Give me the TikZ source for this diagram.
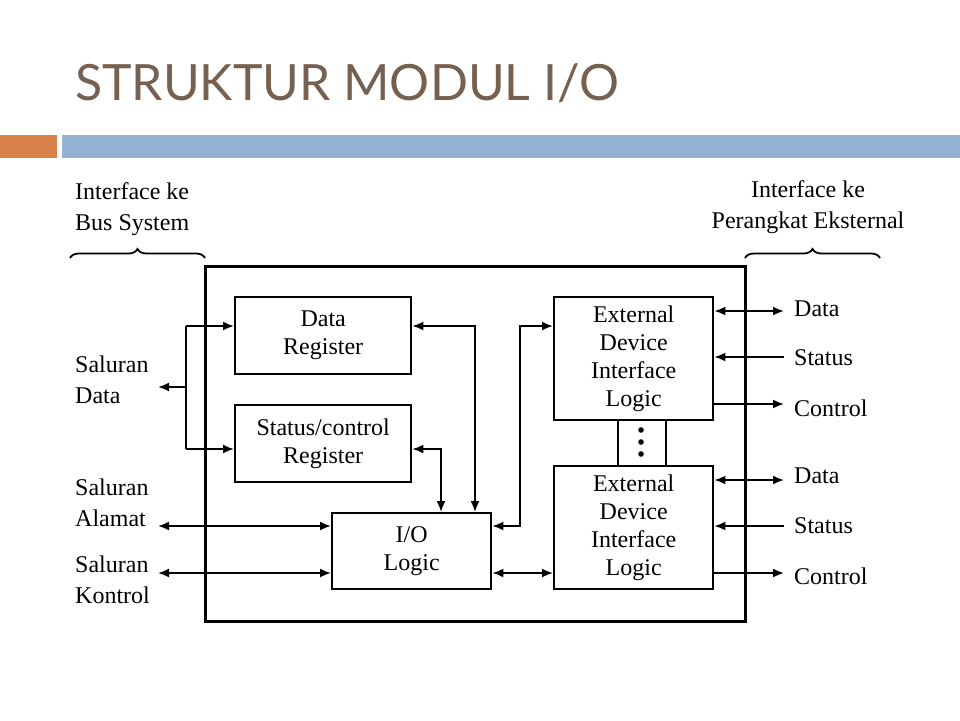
\documentclass[tikz,border=0pt]{standalone}
\usepackage{fontspec}
\setmainfont{Liberation Serif}
\newfontfamily\titlefont{Lato}
\usetikzlibrary{arrows.meta,decorations.pathreplacing}
\definecolor{titlec}{HTML}{76604F}
\definecolor{orangebar}{HTML}{D9834A}
\definecolor{bluebar}{HTML}{93B3D3}
\begin{document}
\begin{tikzpicture}[x=1pt,y=-1pt,
  blk/.style={draw,line width=2.4pt,align=center,font=\fontsize{24}{28}\selectfont,inner sep=0pt},
  lbl/.style={align=left,anchor=west,font=\fontsize{24}{31}\selectfont,inner sep=0pt},
  con/.style={line width=1.8pt,-{Latex[length=11pt,width=9pt]}},
  bcon/.style={line width=1.8pt,{Latex[length=11pt,width=9pt]}-{Latex[length=11pt,width=9pt]}},
  ln/.style={line width=1.8pt}]
\useasboundingbox (0,0) rectangle (960,720);
\node[anchor=base west,text=titlec,font=\titlefont\fontsize{50}{56}\selectfont,inner sep=0pt] (title) at (75,100) {STRUKTUR MODUL I/O};
\fill[orangebar] (0,135) rectangle (57,158);
\fill[bluebar] (62,135) rectangle (960,158);
\node[draw,line width=3pt,minimum width=540pt,minimum height=355pt,anchor=north west,inner sep=0pt] (main) at (204,265) {};
\node[blk,minimum width=176pt,minimum height=77pt,anchor=north west] (dr) at (234,296) {Data\\Register};
\node[blk,minimum width=176pt,minimum height=77pt,anchor=north west] (sr) at (234,404) {Status/control\\Register};
\node[blk,minimum width=159pt,minimum height=76pt,anchor=north west] (io) at (331,512) {I/O\\Logic};
\node[blk,minimum width=159pt,minimum height=123pt,anchor=north west] (e1) at (553,296) {External\\Device\\Interface\\Logic};
\node[blk,minimum width=159pt,minimum height=123pt,anchor=north west] (e2) at (553,465) {External\\Device\\Interface\\Logic};
\node[draw,line width=2.4pt,minimum width=48pt,minimum height=46pt,anchor=north west,inner sep=0pt] (mid) at (617,419) {};
\foreach \yy in {430,442,454} \fill (641,\yy) circle (2.8pt);
% labels
\node[lbl] (lb1) at (75,209) {Interface ke\\Bus System};
\node[lbl,anchor=center,align=center] (lb2) at (808,207) {Interface ke\\Perangkat Eksternal};
\draw[ln,decorate,decoration={brace,amplitude=9pt}] (70,258) -- (205,258);
\draw[ln,decorate,decoration={brace,amplitude=9pt}] (745,258) -- (880,258);
\node[lbl] (sd) at (75,380) {Saluran\\Data};
\node[lbl] (sa) at (75,503) {Saluran\\Alamat};
\node[lbl] (sk) at (75,580) {Saluran\\Kontrol};
% left connectors
\coordinate (jd) at (186,387);
\coordinate (sdtip) at (158,387);
\draw[ln] (186,326) -- (186,449);
\draw[con] (jd) -- (sdtip);
\draw[con] (186,326) -- (dr.west |- 0,326);
\draw[con] (186,449) -- (sr.west |- 0,449);
\coordinate (at) at (158,526);
\coordinate (kt) at (158,573);
\draw[bcon] (at) -- (io.west |- at);
\draw[bcon] (kt) -- (io.west |- kt);
% internal
\draw[bcon] (dr.east |- 0,326) -| (io.north -| 475,0);
\draw[bcon] (sr.east |- 0,449) -| (io.north -| 441,0);
\draw[bcon] (io.east |- 0,526) -| (520,326) -- (e1.west |- 0,326);
\draw[bcon] (io.east |- 0,573) -- (e2.west |- 0,573);
% right
\foreach \e/\a/\b/\c in {e1/311/357/404,e2/480/526/573}{
  \draw[bcon] (\e.east |- 0,\a) -- (784,\a);
  \draw[con] (784,\b) -- (\e.east |- 0,\b);
  \draw[con] (\e.east |- 0,\c) -- (784,\c);
}
\node[lbl] (d1) at (794,309) {Data};
\node[lbl] (s1) at (794,358) {Status};
\node[lbl] (c1) at (794,408) {Control};
\node[lbl] (d2) at (794,476) {Data};
\node[lbl] (s2) at (794,526) {Status};
\node[lbl] (c2) at (794,576) {Control};
\end{tikzpicture}
\end{document}
